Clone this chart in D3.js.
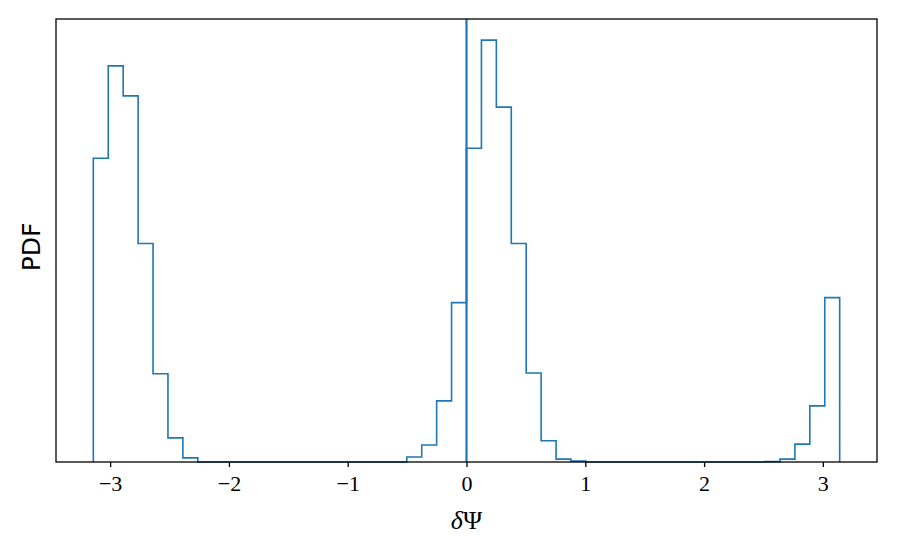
<!DOCTYPE html>
<html>
<head>
<meta charset="utf-8">
<script src="https://cdn.jsdelivr.net/npm/d3@7"></script>
<style>
  body { margin: 0; background: #fff; }
  svg { display: block; }
</style>
</head>
<body>
<script>
/* global d3 */
// histogram of delta Psi, 50 bins between -pi and pi (density)
const nBins = 50;
const binLo = -Math.PI, binHi = Math.PI;
const density = [
  0.730, 0.952, 0.880, 0.525, 0.212, 0.058, 0.010, 0, 0, 0,
  0, 0, 0, 0, 0, 0, 0, 0, 0, 0,
  0, 0.012, 0.041, 0.147, 0.383, 0.754, 1.014, 0.853, 0.525, 0.214,
  0.051, 0.007, 0.002, 0, 0, 0, 0, 0, 0, 0,
  0, 0, 0, 0, 0, 0.001, 0.007, 0.043, 0.135, 0.395
];
const xTicks = [-3, -2, -1, 0, 1, 2, 3];
const vLineAt = 0;

const width = 897, height = 555;
const margin = {left: 56, top: 19, right: 20, bottom: 93};
const iw = width - margin.left - margin.right;
const ih = height - margin.top - margin.bottom;

const svg = d3.select('body').append('svg')
    .attr('width', width).attr('height', height);

const pad = (binHi - binLo) * 0.05;
const x = d3.scaleLinear().domain([binLo - pad, binHi + pad]).range([0, iw]);
const y = d3.scaleLinear().domain([0, d3.max(density) * 1.05]).range([ih, 0]);

const g = svg.append('g').attr('transform', `translate(${margin.left},${margin.top})`);

// step outline
const edges = d3.range(nBins + 1).map(i => binLo + (binHi - binLo) * i / nBins);
const pts = [[edges[0], 0]];
density.forEach((d, i) => { pts.push([edges[i], d]); pts.push([edges[i + 1], d]); });
pts.push([edges[nBins], 0]);

g.append('path')
    .attr('d', d3.line().x(p => x(p[0])).y(p => y(p[1]))(pts))
    .attr('fill', 'none')
    .attr('stroke', '#1f77b4')
    .attr('stroke-width', 1.6)
    .attr('stroke-linejoin', 'miter');

g.append('line')
    .attr('x1', x(vLineAt)).attr('x2', x(vLineAt))
    .attr('y1', 0).attr('y2', ih)
    .attr('stroke', '#1f77b4')
    .attr('stroke-width', 2.2);

// x axis
const xAxis = g.append('g').attr('transform', `translate(0,${ih})`)
    .call(d3.axisBottom(x).tickValues(xTicks).tickSize(5).tickPadding(8)
        .tickFormat(d => d < 0 ? '\u2212' + Math.abs(d) : d));
xAxis.select('.domain').remove();
xAxis.selectAll('line').attr('stroke', '#000').attr('stroke-width', 1.3);
xAxis.selectAll('text')
    .attr('font-family', '"Liberation Serif", serif')
    .attr('font-size', 22)
    .attr('fill', '#000');

// frame
g.append('rect')
    .attr('width', iw).attr('height', ih)
    .attr('fill', 'none')
    .attr('stroke', '#000')
    .attr('stroke-width', 1.3);

// labels
const xl = svg.append('text')
    .attr('x', margin.left + x(0))
    .attr('y', 529)
    .attr('text-anchor', 'middle')
    .attr('font-family', '"Liberation Serif", serif')
    .attr('font-size', 26);
xl.append('tspan').attr('font-style', 'italic').text('\u03B4');
xl.append('tspan').text('\u03A8');

svg.append('text')
    .attr('transform', 'translate(40,247) rotate(-90)')
    .attr('text-anchor', 'middle')
    .attr('font-family', '"DejaVu Sans", sans-serif')
    .attr('font-size', 25)
    .text('PDF');
</script>
</body>
</html>
